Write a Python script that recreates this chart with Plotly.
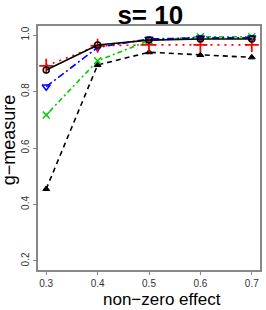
import plotly.graph_objects as go

x_vals = [0.3, 0.4, 0.5, 0.6, 0.7]
black_solid = [0.876, 0.965, 0.982, 0.986, 0.986]
red_dotted = [0.891, 0.962, 0.965, 0.965, 0.965]
blue_dotdash = [0.817, 0.956, 0.986, 0.990, 0.990]
green_twodash = [0.717, 0.909, 0.980, 0.994, 0.994]
black_dashed = [0.455, 0.894, 0.939, 0.929, 0.921]

x_ticks = [0.3, 0.4, 0.5, 0.6, 0.7]
x_tick_labels = ["0.3", "0.4", "0.5", "0.6", "0.7"]
y_ticks = [0.2, 0.4, 0.6, 0.8, 1.0]
y_tick_labels = ["0.2", "0.4", "0.6", "0.8", "1.0"]

FONT = "Liberation Sans, Arial, sans-serif"

fig = go.Figure()

series = [
    (black_dashed, "black", "5px,4px", "triangle-up", 6, 1),
    (green_twodash, "#00cc00", "2px,3px,5px,3px", "x-thin-open", 7, 1.5),
    (blue_dotdash, "blue", "7px,3px,2px,3px", "triangle-down-open", 7, 1.5),
    (red_dotted, "red", "2px,5px", "cross-thin-open", 10, 1.8),
    (black_solid, "black", "solid", "circle-open", 6, 1.5),
]
for ys, col, dash, sym, size, mlw in series:
    fig.add_trace(go.Scatter(
        x=x_vals, y=ys, mode="lines+markers",
        line=dict(color=col, dash=dash, width=1.6),
        marker=dict(symbol=sym, size=size, color=col, line=dict(color=col, width=mlw)),
        showlegend=False,
    ))

axis_common = dict(
    showline=True, mirror=True, linecolor="#888888", linewidth=1.5,
    ticks="outside", ticklen=3, tickcolor="#888888", showgrid=False, zeroline=False,
    tickfont=dict(family=FONT, size=10, color="#333333"),
)

fig.update_layout(
    width=266, height=310,
    margin=dict(l=38, r=4, t=26, b=40),
    plot_bgcolor="white", paper_bgcolor="white",
    title=dict(text="<b>s= 10</b>", x=0.565, xanchor="center", y=0.982, yanchor="top",
               font=dict(family=FONT, size=26, color="black")),
    xaxis=dict(range=[0.284, 0.716], tickvals=x_ticks, ticktext=x_tick_labels, **axis_common),
    yaxis=dict(range=[0.168, 1.032], tickvals=y_ticks, ticktext=y_tick_labels, tickangle=-90,
               **axis_common),
    annotations=[
        dict(text="non−zero effect", xref="paper", yref="paper", x=0.558, y=-0.164,
             xanchor="center", yanchor="bottom", showarrow=False, borderpad=0,
             font=dict(family=FONT, size=17, color="black")),
        dict(text="g−measure", xref="paper", yref="paper", x=-0.129, y=0.533,
             xanchor="center", yanchor="middle", textangle=-90, showarrow=False,
             font=dict(family=FONT, size=18, color="black")),
    ],
)

fig.write_html("out.html", config={"displayModeBar": False},
               post_script="document.body.style.margin='0';document.body.style.padding='0';")
